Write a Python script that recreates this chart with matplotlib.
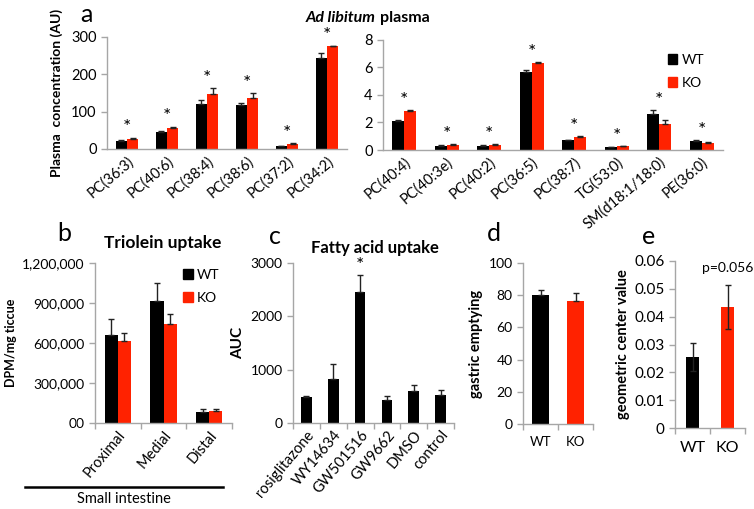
import matplotlib.pyplot as plt
import numpy as np
from matplotlib.patches import Patch
from matplotlib.lines import Line2D

plt.rcParams['font.family'] = ['Lato', 'DejaVu Sans']

RED = '#ff2200'
BLK = '#000000'
GRAY = '#a6a6a6'

# panel a - left (large species)
a1_labels = ['PC(36:3)', 'PC(40:6)', 'PC(38:4)', 'PC(38:6)', 'PC(37:2)', 'PC(34:2)']
a1_wt = [22, 45, 120, 117, 8, 245]
a1_wt_err = [2, 2, 10, 7, 1, 12]
a1_ko = [28, 55, 148, 137, 13, 275]
a1_ko_err = [2, 5, 15, 12, 2, 2]

# panel a - right (small species)
a2_labels = ['PC(40:4)', 'PC(40:3e)', 'PC(40:2)', 'PC(36:5)', 'PC(38:7)',
             'TG(53:0)', 'SM(d18:1/18:0)', 'PE(36:0)']
a2_wt = [2.1, 0.3, 0.3, 5.7, 0.7, 0.2, 2.65, 0.67]
a2_wt_err = [0.08, 0.03, 0.03, 0.12, 0.05, 0.03, 0.25, 0.04]
a2_ko = [2.8, 0.4, 0.4, 6.35, 0.95, 0.27, 1.9, 0.53]
a2_ko_err = [0.12, 0.04, 0.04, 0.05, 0.06, 0.03, 0.25, 0.03]

# panel b
b_labels = ['Proximal', 'Medial', 'Distal']
b_wt = [660000, 915000, 85000]
b_wt_err = [120000, 135000, 20000]
b_ko = [615000, 740000, 90000]
b_ko_err = [60000, 75000, 15000]
b_ticks = [0, 300000, 600000, 900000, 1200000]
b_ticklabels = ['00', '300,000', '600,000', '900,000', '1,200,000']

# panel c
c_labels = ['rosiglitazone', 'WY14634', 'GW501516', 'GW9662', 'DMSO', 'control']
c_vals = [480, 820, 2450, 440, 600, 520]
c_err = [30, 280, 330, 70, 120, 100]

# panel d
d_labels = ['WT', 'KO']
d_vals = [80, 76.5]
d_err = [3, 5]

# panel e
e_labels = ['WT', 'KO']
e_vals = [0.0255, 0.0435]
e_err = [0.005, 0.008]

W, H = 754, 509
fig = plt.figure(figsize=(W / 100, H / 100), dpi=100)


def box(x0, x1, ytop, ybot):
    return [x0 / W, 1 - ybot / H, (x1 - x0) / W, (ybot - ytop) / H]


def style(ax, ysize=10):
    for s in ['top', 'right']:
        ax.spines[s].set_visible(False)
    for s in ['left', 'bottom']:
        ax.spines[s].set_color(GRAY)
        ax.spines[s].set_linewidth(1)
    ax.tick_params(axis='y', colors=GRAY, labelcolor='black', labelsize=ysize, length=4, width=1)
    ax.tick_params(axis='x', colors=GRAY, labelcolor='black', length=0)


def cat_ticks(ax, n):
    ax.set_xticks(np.arange(n + 1) - 0.5, minor=True)
    ax.tick_params(axis='x', which='minor', length=4, width=1, colors=GRAY)


ekw = dict(ecolor='#222222', capsize=2.5, elinewidth=1, capthick=1)

# ---- a left
ax1 = fig.add_axes(box(107, 347, 37, 149))
x = np.arange(len(a1_labels))
w = 0.28
ax1.bar(x - w / 2, a1_wt, w, yerr=[np.zeros(6), a1_wt_err], color=BLK, error_kw=ekw)
ax1.bar(x + w / 2, a1_ko, w, yerr=[np.zeros(6), a1_ko_err], color=RED, error_kw=ekw)
for i in range(len(x)):
    top = max(a1_wt[i] + a1_wt_err[i], a1_ko[i] + a1_ko_err[i])
    ax1.text(x[i], top + 4, '*', ha='center', va='bottom', fontsize=14)
ax1.set_xlim(-0.5, 5.5)
ax1.set_ylim(0, 300)
ax1.set_yticks([0, 100, 200, 300])
ax1.set_xticks(x)
ax1.set_xticklabels(a1_labels, rotation=40, ha='right', rotation_mode='anchor', fontsize=10.5)
style(ax1, 10.5)
ax1.set_ylabel('Plasma  concentration (AU)', fontsize=10, fontweight='bold', labelpad=6)

# ---- a right
ax2 = fig.add_axes(box(383, 723, 40, 150))
x = np.arange(len(a2_labels))
n = len(x)
ax2.bar(x - w / 2, a2_wt, w, yerr=[np.zeros(n), a2_wt_err], color=BLK, error_kw=ekw)
ax2.bar(x + w / 2, a2_ko, w, yerr=[np.zeros(n), a2_ko_err], color=RED, error_kw=ekw)
for i in range(n):
    top = max(a2_wt[i] + a2_wt_err[i], a2_ko[i] + a2_ko_err[i])
    ax2.text(x[i], top + 0.08, '*', ha='center', va='bottom', fontsize=14)
ax2.set_xlim(-0.5, n - 0.5)
ax2.set_ylim(0, 8)
ax2.set_yticks([0, 2, 4, 6, 8])
ax2.set_xticks(x)
ax2.set_xticklabels(a2_labels, rotation=40, ha='right', rotation_mode='anchor', fontsize=10.5)
style(ax2, 10.5)
ax2.legend(handles=[Patch(color=BLK, label='WT'), Patch(color=RED, label='KO')],
           loc='upper left', bbox_to_anchor=(0.8, 0.99), frameon=False, fontsize=10,
           handlelength=0.7, handleheight=0.7, handletextpad=0.3, labelspacing=0.8)

fig.text(376 / W, 1 - 18 / H, 'Ad libitum', ha='right', va='center', fontsize=11.5,
         fontweight='bold', fontstyle='italic')
fig.text(380 / W, 1 - 18 / H, 'plasma', ha='left', va='center', fontsize=11.5, fontweight='bold')

# ---- b
axb = fig.add_axes(box(95, 232, 263, 423))
x = np.arange(len(b_labels))
wb = 0.29
axb.bar(x - wb / 2, b_wt, wb, yerr=[np.zeros(3), b_wt_err], color=BLK, error_kw=ekw)
axb.bar(x + wb / 2, b_ko, wb, yerr=[np.zeros(3), b_ko_err], color=RED, error_kw=ekw)
axb.set_xlim(-0.5, 2.5)
axb.set_ylim(0, 1200000)
axb.set_yticks(b_ticks)
axb.set_yticklabels(b_ticklabels)
axb.set_xticks(x)
axb.set_xticklabels(b_labels, rotation=50, ha='right', rotation_mode='anchor', fontsize=10.5)
style(axb)
cat_ticks(axb, 3)
axb.set_ylabel('DPM/mg ticcue', fontsize=9, fontweight='bold', labelpad=4)
fig.text(163 / W, 1 - 243 / H, 'Triolein uptake', ha='center', va='center',
         fontsize=12.5, fontweight='bold')
axb.legend(handles=[Patch(color=BLK, label='WT'), Patch(color=RED, label='KO')],
           loc='upper left', bbox_to_anchor=(0.55, 1.04), frameon=False, fontsize=10,
           handlelength=0.7, handleheight=0.7, handletextpad=0.3, labelspacing=0.8)
fig.add_artist(Line2D([25 / W, 223 / W], [1 - 487 / H, 1 - 487 / H], color='black', lw=1.8))
fig.text(124 / W, 1 - 499 / H, 'Small intestine', ha='center', va='center', fontsize=10.5)

# ---- c
axc = fig.add_axes(box(293, 454, 263, 423))
x = np.arange(len(c_labels))
axc.bar(x, c_vals, 0.4, yerr=[np.zeros(6), c_err], color=BLK, error_kw=ekw)
axc.text(x[2], c_vals[2] + c_err[2] + 20, '*', ha='center', va='bottom', fontsize=14)
axc.set_xlim(-0.5, 5.5)
axc.set_ylim(0, 3000)
axc.set_yticks([0, 1000, 2000, 3000])
axc.set_xticks(x)
axc.set_xticklabels(c_labels, rotation=50, ha='right', rotation_mode='anchor', fontsize=10.5)
style(axc)
cat_ticks(axc, 6)
axc.set_ylabel('AUC', fontsize=11, fontweight='bold', labelpad=4)
fig.text(375 / W, 1 - 248 / H, 'Fatty acid uptake', ha='center', va='center',
         fontsize=12, fontweight='bold')

# ---- d
axd = fig.add_axes(box(523, 593, 263, 424))
x = np.arange(2)
axd.bar(x, d_vals, 0.46, yerr=[np.zeros(2), d_err], color=[BLK, RED], error_kw=ekw)
axd.set_xlim(-0.5, 1.5)
axd.set_ylim(0, 100)
axd.set_yticks([0, 20, 40, 60, 80, 100])
axd.set_xticks(x)
axd.set_xticklabels(d_labels, fontsize=9.5)
style(axd)
cat_ticks(axd, 2)
axd.tick_params(axis='x', pad=9)
axd.set_ylabel('gastric emptying', fontsize=10.5, fontweight='bold', labelpad=4)

# ---- e
axe = fig.add_axes(box(675, 745, 261, 428))
axe.bar(x, e_vals, 0.38, yerr=[e_err, e_err], color=[BLK, RED], error_kw=ekw)
axe.text(x[1], 0.0552, 'p=0.056', ha='center', va='bottom', fontsize=10)
axe.set_xlim(-0.5, 1.5)
axe.set_ylim(0, 0.06)
axe.set_yticks([0, 0.01, 0.02, 0.03, 0.04, 0.05, 0.06])
axe.set_yticklabels(['0', '0.01', '0.02', '0.03', '0.04', '0.05', '0.06'])
axe.set_xticks(x)
axe.set_xticklabels(e_labels, fontsize=11.5)
style(axe, ysize=11)
cat_ticks(axe, 2)
axe.tick_params(axis='x', pad=9)
axe.set_ylabel('geometric center value', fontsize=10.5, fontweight='bold', labelpad=3)

# panel letters
for lab, px, py in [('a', 86, 14), ('b', 64, 234), ('c', 275, 236), ('d', 494, 234), ('e', 649, 236)]:
    fig.text(px / W, 1 - py / H, lab, ha='center', va='center', fontsize=18)

fig.savefig('out.png', dpi=100)
